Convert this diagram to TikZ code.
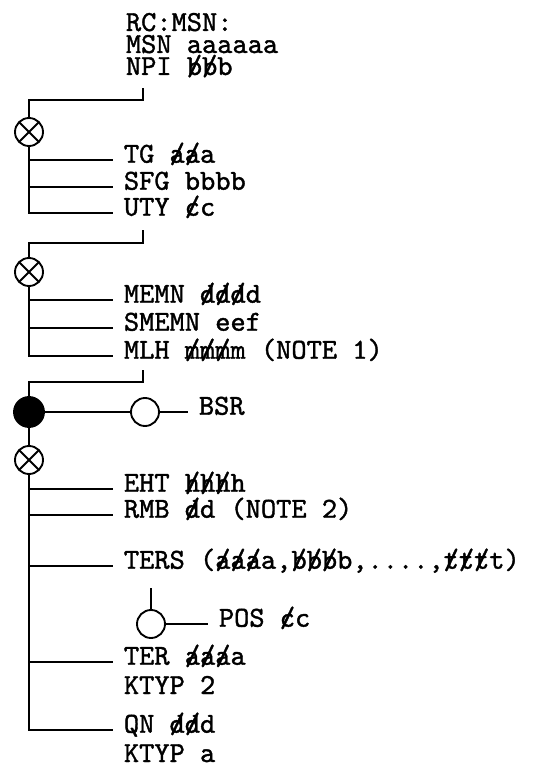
\documentclass[tikz,border=0pt]{standalone}
\usepackage{fontspec}
\usepackage{tikz}
\usetikzlibrary{positioning,calc}

\newfontfamily\diafont{lmmono10-regular}[Extension=.otf,FakeBold=1.3]
% struck-through letter
\newcommand{\xo}[1]{\ooalign{#1\cr\hidewidth/\hidewidth\cr}}

\tikzset{
  lbl/.style={anchor=west,inner xsep=7.5pt,inner ysep=0pt,text height=0.56em,text depth=0.15em,
    font=\diafont\fontsize{21.75}{27}\selectfont},
  hdrbox/.style={anchor=north west,align=left,inner xsep=7.5pt,inner ysep=0pt,
    font=\diafont\fontsize{21.75}{16.5}\selectfont},
  xnode/.style={circle,draw,fill=white,minimum size=21pt,inner sep=0pt,
    path picture={\draw (path picture bounding box.north west) -- (path picture bounding box.south east)
                        (path picture bounding box.south west) -- (path picture bounding box.north east);}},
  dotnode/.style={circle,draw,fill=black,minimum size=22.5pt,inner sep=0pt},
  ringnode/.style={circle,draw,fill=white,minimum size=21pt,inner sep=0pt},
}

\begin{document}
\begin{tikzpicture}[x=0.75pt,y=-0.75pt,line width=1.4pt]
  \useasboundingbox (0,0) rectangle (538,764);

  % record header
  \node[hdrbox] (hdr) at (115,12) {RC:MSN:\\MSN aaaaaa\\NPI \xo{b}\xo{b}b};

  % first group
  \coordinate (t1) at (143,88);
  \node[xnode] (x1) at (29,132) {};
  \draw (t1) -- ++(0,12) -| (x1.north);
  \foreach \y/\nm/\txt in {160/tg/{TG \xo{a}\xo{a}a},187/sfg/{SFG bbbb},213/uty/{UTY \xo{c}c}}{
    \node[lbl] (\nm) at (113,\y) {\txt};
  }
  \draw (x1.south) |- (uty.west);
  \draw (x1.south |- tg.west) -- (tg.west);
  \draw (x1.south |- sfg.west) -- (sfg.west);

  % second group
  \coordinate (t2) at (143,230);
  \node[xnode] (x2) at (29,272) {};
  \draw (t2) -- ++(0,13) -| (x2.north);
  \foreach \y/\nm/\txt in {300/memn/{MEMN \xo{d}\xo{d}\xo{d}d},328/smemn/{SMEMN eef},356/mlh/{MLH \xo{m}\xo{m}\xo{m}m (NOTE 1)}}{
    \node[lbl] (\nm) at (113,\y) {\txt};
  }
  \draw (x2.south) |- (mlh.west);
  \draw (x2.south |- memn.west) -- (memn.west);
  \draw (x2.south |- smemn.west) -- (smemn.west);

  % third group
  \coordinate (t3) at (143,370);
  \node[dotnode] (b1) at (29,412) {};
  \draw (t3) -- ++(0,12) -| (b1.north);
  \node[ringnode] (o1) at (145,412) {};
  \node[lbl] (bsr) at (188,412) {BSR};
  \draw (b1) -- (o1) -- (bsr.west);
  \node[xnode] (x3) at (29,460) {};
  \draw (b1) -- (x3);
  \foreach \y/\nm/\txt in {489/eht/{EHT \xo{h}\xo{h}\xo{h}h},515/rmb/{RMB \xo{d}d (NOTE 2)},
      566/ters/{TERS (\xo{a}\xo{a}\xo{a}a,\xo{b}\xo{b}\xo{b}b,....,\xo{t}\xo{t}\xo{t}t)},
      662/ter/{TER \xo{a}\xo{a}\xo{a}a},730/qn/{QN \xo{d}\xo{d}d}}{
    \node[lbl] (\nm) at (113,\y) {\txt};
  }
  \node[lbl,anchor=base west] (kt2) at (113,694) {KTYP 2};
  \node[lbl,anchor=base west] (kta) at (113,762) {KTYP a};
  \draw (x3.south) |- (qn.west);
  \foreach \nm in {eht,rmb,ters,ter}{
    \draw (x3.south |- \nm.west) -- (\nm.west);
  }

  % position under TERS
  \coordinate (t4) at (151,588);
  \node[ringnode] (o2) at (151,624) {};
  \node[lbl] (pos) at (208,624) {POS \xo{c}c};
  \draw (t4) -- (o2.north);
  \draw (o2) -- (pos.west);
\end{tikzpicture}
\end{document}
